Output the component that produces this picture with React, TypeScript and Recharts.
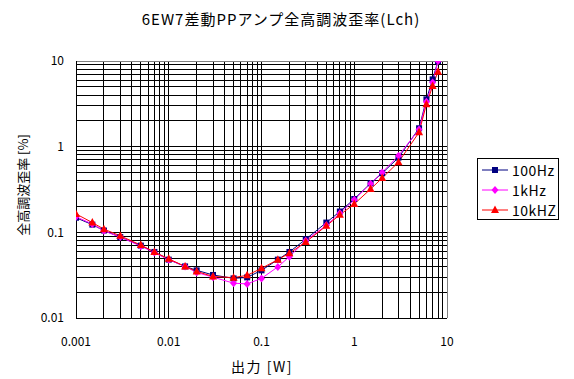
import React from 'react';
import {
    LineChart,
    Line,
    XAxis,
    YAxis,
    CartesianGrid,
    Legend,
    ReferenceLine
} from 'recharts';

// Output power [W]
const outputW = [0.001, 0.0015, 0.002, 0.003, 0.005, 0.007, 0.01, 0.015, 0.02, 0.03, 0.05, 0.07, 0.1, 0.15, 0.2, 0.3, 0.5, 0.7, 1, 1.5, 2, 3, 5, 6, 7, 8];

// THD [%] per test frequency
const thd100Hz = [0.148, 0.123, 0.105, 0.088, 0.07, 0.059, 0.048, 0.04, 0.036, 0.0318, 0.029, 0.0298, 0.036, 0.048, 0.059, 0.083, 0.13, 0.175, 0.245, 0.374, 0.49, 0.745, 1.64, 3.57, 6.1, 10];
const thd1kHz = [0.152, 0.125, 0.104, 0.088, 0.069, 0.058, 0.048, 0.04, 0.034, 0.03, 0.0255, 0.025, 0.029, 0.0395, 0.052, 0.08, 0.121, 0.167, 0.24, 0.37, 0.5, 0.785, 1.59, 3.35, 5.6, 10];
const thd10kHz = [0.164, 0.13, 0.109, 0.091, 0.071, 0.059, 0.049, 0.04, 0.035, 0.0305, 0.0296, 0.0315, 0.038, 0.048, 0.057, 0.077, 0.119, 0.16, 0.214, 0.32, 0.43, 0.66, 1.47, 3.13, 5.1, 7.5];

const seriesNames = ['100Hz', '1kHz', '10kHZ'];
const seriesColors = ['#000080', '#FF00FF', '#FF0000'];

const xTicks = [0.001, 0.01, 0.1, 1, 10];
const yTicks = [0.01, 0.1, 1, 10];

// log grid: 1..9 in every decade (top/right edge drawn separately in gray)
const gridSteps = (decades: number[]) => {
    const out: number[] = [];
    decades.forEach(d => {
        for (let m = 1; m <= 9; m++) out.push(Number((d * m).toPrecision(3)));
    });
    return out;
};
const xGrid = gridSteps([0.001, 0.01, 0.1, 1]);
const yGrid = gridSteps([0.01, 0.1, 1]);

const data = outputW.map((x, i) => ({
    x,
    s100: thd100Hz[i],
    s1k: thd1kHz[i],
    s10k: thd10kHz[i]
}));

const FONT = "'Noto Sans CJK JP', 'DejaVu Sans', sans-serif";

const Marker = ({ kind, cx, cy }: { kind: number; cx: number; cy: number }) => {
    if (kind === 0) {
        return <rect x={cx - 3} y={cy - 3} width={6} height={6} fill={seriesColors[0]} />;
    }
    if (kind === 1) {
        return <polygon points={`${cx},${cy - 4} ${cx + 3.5},${cy} ${cx},${cy + 4} ${cx - 3.5},${cy}`} fill={seriesColors[1]} />;
    }
    return <polygon points={`${cx},${cy - 4.5} ${cx + 4},${cy + 3} ${cx - 4},${cy + 3}`} fill={seriesColors[2]} />;
};

const makeDot = (kind: number) => (props: any) => {
    const { cx, cy, index } = props;
    if (cx == null || cy == null) return <g key={`d${kind}-${index}`} />;
    return (
        <g key={`d${kind}-${index}`}>
            <Marker kind={kind} cx={cx} cy={cy} />
        </g>
    );
};

const renderLegend = () => (
    <div style={{
        border: '1px solid #000',
        background: '#fff',
        width: 82,
        height: 62,
        boxSizing: 'border-box',
        paddingTop: 1,
        fontFamily: FONT,
        fontSize: 14,
        letterSpacing: 0.5,
        color: '#000'
    }}>
        {seriesNames.map((name, i) => (
            <div key={name} style={{ display: 'flex', alignItems: 'center', height: 20, lineHeight: '20px' }}>
                <svg width={34} height={20} style={{ flex: 'none' }}>
                    <line x1={4} y1={10} x2={30} y2={10} stroke={seriesColors[i]} strokeWidth={1} />
                    <Marker kind={i} cx={17} cy={10} />
                </svg>
                <span>{name}</span>
            </div>
        ))}
    </div>
);

export default function App() {
    return (
        <div style={{ position: 'absolute', left: 0, top: 0, width: 574, height: 379, background: '#fff', fontFamily: FONT }}>
            <div style={{ position: 'absolute', left: 0, width: 562, top: 8, textAlign: 'center', fontSize: 15, letterSpacing: 1, color: '#000' }}>
                6EW7差動PPアンプ全高調波歪率(Lch)
            </div>
            <LineChart
                width={574}
                height={379}
                data={data}
                margin={{ top: 61, right: 127, bottom: 0, left: 0 }}
            >
                <CartesianGrid
                    stroke="#000"
                    strokeWidth={1}
                    horizontalValues={yGrid}
                    verticalValues={xGrid}
                    shapeRendering="crispEdges"
                />
                <ReferenceLine y={10} stroke="#808080" shapeRendering="crispEdges" />
                <ReferenceLine x={10} stroke="#808080" shapeRendering="crispEdges" />
                <XAxis
                    dataKey="x"
                    type="number"
                    scale="log"
                    domain={[0.001, 10]}
                    allowDataOverflow
                    ticks={xTicks}
                    interval={0}
                    height={61}
                    tickLine={false}
                    tickSize={0}
                    tickMargin={19}
                    axisLine={{ stroke: '#000', shapeRendering: 'crispEdges' }}
                    tick={{ fill: '#000', fontSize: 12, fontFamily: FONT }}
                    label={{
                        content: () => (
                            <text x={262} y={372} textAnchor="middle" fontSize={14} letterSpacing={1.5} fontFamily={FONT} fill="#000">出力 [W]</text>
                        )
                    }}
                />
                <YAxis
                    type="number"
                    scale="log"
                    domain={[0.01, 10]}
                    allowDataOverflow
                    ticks={yTicks}
                    interval={0}
                    width={76}
                    tickLine={false}
                    tickSize={0}
                    tickMargin={12}
                    axisLine={{ stroke: '#000', shapeRendering: 'crispEdges' }}
                    tick={{ fill: '#000', fontSize: 12, fontFamily: FONT }}
                    label={{
                        content: () => (
                            <text x={22} y={185} transform="rotate(-90 22 185)" textAnchor="middle" dominantBaseline="central" fontSize={13} fontFamily={FONT} fill="#000">全高調波歪率 [%]</text>
                        )
                    }}
                />
                <Legend
                    layout="horizontal"
                    align="center"
                    verticalAlign="middle"
                    content={renderLegend}
                    wrapperStyle={{ left: 477, top: 158, width: 82, height: 62 }}
                />
                <Line type="linear" dataKey="s100" name={seriesNames[0]} stroke={seriesColors[0]} strokeWidth={1} dot={makeDot(0)} activeDot={false} isAnimationActive={false} />
                <Line type="linear" dataKey="s1k" name={seriesNames[1]} stroke={seriesColors[1]} strokeWidth={1} dot={makeDot(1)} activeDot={false} isAnimationActive={false} />
                <Line type="linear" dataKey="s10k" name={seriesNames[2]} stroke={seriesColors[2]} strokeWidth={1} dot={makeDot(2)} activeDot={false} isAnimationActive={false} />
            </LineChart>
        </div>
    );
}
